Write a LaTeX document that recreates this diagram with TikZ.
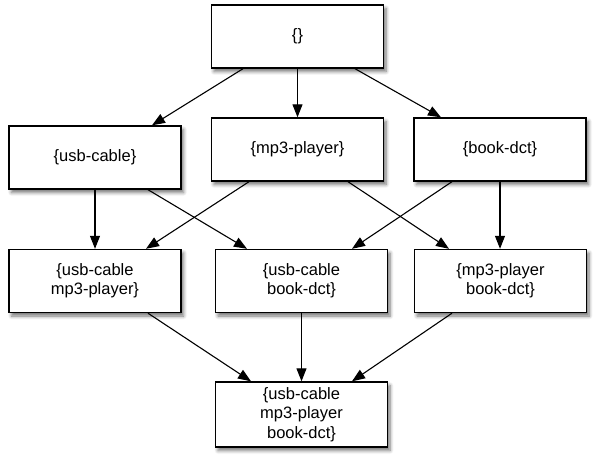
\documentclass[tikz,border=0pt]{standalone}
\usepackage{fontspec}
\setmainfont{Liberation Sans}
\usepackage{tikz}
\usetikzlibrary{arrows.meta,shadows.blur}

\begin{document}
\begin{tikzpicture}[
    x=1pt, y=-1pt,
    base/.style={draw, line width=1.4pt, fill=white, minimum width=172pt, minimum height=63pt, inner sep=0pt, align=center,
        font=\fontsize{16.5}{19.3}\selectfont,
        blur shadow={shadow xshift=2.5pt, shadow yshift=-3.5pt, shadow blur radius=3.5pt, shadow blur steps=6, shadow opacity=55}},
    arrow/.style={-{Triangle[length=13pt,width=10pt]}, line width=1.1pt}
]
\useasboundingbox (0,0) rectangle (596,462);
\node (empty) [base] at (297.5,36.5) {\{\}};
\node (usb) [base] at (95,157.5) {\{usb-cable\}};
\node (mp3) [base] at (297.5,149.5) {\{mp3-player\}};
\node (book) [base] at (500,149.5) {\{book-dct\}};
\node (usbmp3) [base] at (95,281) {\{usb-cable\\mp3-player\}};
\node (usbbook) [base] at (301.5,281) {\{usb-cable\\book-dct\}};
\node (mp3book) [base] at (500.5,281) {\{mp3-player\\book-dct\}};
\node (all) [base, minimum height=65pt] at (301.5,414.5) {\{usb-cable\\mp3-player\\book-dct\}};
\draw [arrow] ([xshift=-54.5pt]empty.south) -- ([xshift=57pt]usb.north);
\draw [arrow] (empty) -- (mp3);
\draw [arrow] ([xshift=57.5pt]empty.south) -- ([xshift=-59pt]book.north);
\draw [arrow] (usb) -- (usbmp3);
\draw [arrow] ([xshift=53pt]usb.south) -- ([xshift=-54.5pt]usbbook.north);
\draw [arrow] ([xshift=-48.5pt]mp3.south) -- ([xshift=51pt]usbmp3.north);
\draw [arrow] ([xshift=50.5pt]mp3.south) -- ([xshift=-51.5pt]mp3book.north);
\draw [arrow] ([xshift=-48pt]book.south) -- ([xshift=50.5pt]usbbook.north);
\draw [arrow] (book.south) -- (book.south |- mp3book.north);
\draw [arrow] ([xshift=53pt]usbmp3.south) -- ([xshift=-50.5pt]all.north);
\draw [arrow] (usbbook) -- (all);
\draw [arrow] ([xshift=-48.5pt]mp3book.south) -- ([xshift=50.5pt]all.north);
\end{tikzpicture}
\end{document}
